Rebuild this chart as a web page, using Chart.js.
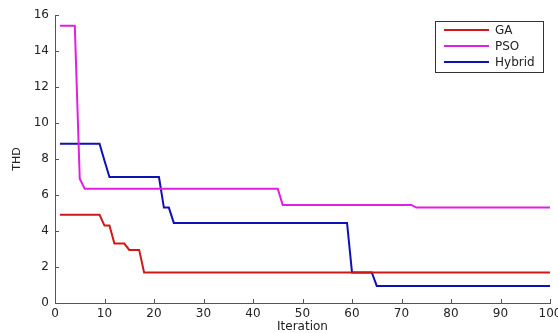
<!DOCTYPE html>
<html lang="en">
  <head>
    <meta charset="UTF-8" />
    <title>THD vs Iteration</title>
    <script src="https://cdn.jsdelivr.net/npm/chart.js@4"></script>
    <style>
      html, body { margin: 0; padding: 0; background: #fff; }
      #wrap { width: 558px; height: 333px; }
    </style>
  </head>
  <body>
    <div id="wrap"><canvas id="thd-chart"></canvas></div>
    <script>
      // points where each curve changes (iteration, THD)
      const gaIter = [1, 9, 10, 11, 12, 14, 15, 17, 18, 100];
      const gaThd = [4.9, 4.9, 4.3, 4.3, 3.3, 3.3, 2.95, 2.95, 1.7, 1.7];

      const psoIter = [1, 4, 5, 6, 45, 46, 72, 73, 100];
      const psoThd = [15.4, 15.4, 6.9, 6.35, 6.35, 5.45, 5.45, 5.3, 5.3];

      const hybIter = [1, 9, 10, 11, 21, 22, 23, 24, 59, 60, 64, 65, 100];
      const hybThd = [8.85, 8.85, 7.9, 7.0, 7.0, 5.3, 5.3, 4.45, 4.45, 1.7, 1.7, 0.95, 0.95];

      const xTicks = [0, 10, 20, 30, 40, 50, 60, 70, 80, 90, 100];
      const yTicks = [0, 2, 4, 6, 8, 10, 12, 14, 16];

      const toPts = (xs, ys) => xs.map((x, i) => ({ x: x, y: ys[i] }));
      const family = "'DejaVu Sans', Arial, sans-serif";
      const font = { family: family, size: 12 };

      // matlab style ticks pointing into the plot
      const innerTicks = {
        id: "innerTicks",
        afterDraw(chart) {
          const ctx = chart.ctx;
          const { x, y } = chart.scales;
          ctx.save();
          ctx.strokeStyle = "#555";
          ctx.lineWidth = 1;
          xTicks.forEach((v) => {
            const px = Math.round(x.getPixelForValue(v)) + 0.5;
            ctx.beginPath();
            ctx.moveTo(px, y.bottom);
            ctx.lineTo(px, y.bottom - 4);
            ctx.stroke();
          });
          yTicks.forEach((v) => {
            const py = Math.round(y.getPixelForValue(v)) + 0.5;
            ctx.beginPath();
            ctx.moveTo(x.left, py);
            ctx.lineTo(x.left + 4, py);
            ctx.stroke();
          });
          ctx.restore();
        },
      };

      // boxed legend in the top right corner
      const boxLegend = {
        id: "boxLegend",
        afterDraw(chart) {
          const ctx = chart.ctx;
          const bx = 435, by = 21, bw = 108, bh = 51;
          ctx.save();
          ctx.fillStyle = "#fff";
          ctx.fillRect(bx, by, bw, bh);
          ctx.strokeStyle = "#333";
          ctx.lineWidth = 1;
          ctx.strokeRect(bx + 0.5, by + 0.5, bw, bh);
          ctx.font = "12px " + family;
          ctx.textBaseline = "middle";
          chart.data.datasets.forEach((ds, i) => {
            const ly = by + 9 + i * 16;
            ctx.strokeStyle = ds.borderColor;
            ctx.lineWidth = 2;
            ctx.beginPath();
            ctx.moveTo(444, ly);
            ctx.lineTo(489, ly);
            ctx.stroke();
            ctx.fillStyle = "#222";
            ctx.fillText(ds.label, 495, ly + 1);
          });
          ctx.restore();
        },
      };

      new Chart(document.getElementById("thd-chart"), {
        type: "line",
        data: {
          datasets: [
            { label: "GA", data: toPts(gaIter, gaThd), borderColor: "#d01818" },
            { label: "PSO", data: toPts(psoIter, psoThd), borderColor: "#e020e0" },
            { label: "Hybrid", data: toPts(hybIter, hybThd), borderColor: "#1010b8" },
          ].map((d) => Object.assign(d, { borderWidth: 2, pointRadius: 0, tension: 0, fill: false })),
        },
        options: {
          responsive: true,
          maintainAspectRatio: false,
          animation: false,
          layout: { padding: { left: 0, right: 8, top: 15, bottom: 0 } },
          plugins: { legend: { display: false }, tooltip: { enabled: false } },
          scales: {
            x: {
              type: "linear",
              min: 0,
              max: 100,
              afterBuildTicks: (s) => { s.ticks = xTicks.map((v) => ({ value: v })); },
              afterFit: (s) => { s.height = 30; s.paddingLeft = 0; s.paddingRight = 0; },
              grid: { display: false, drawTicks: false },
              border: { color: "#555", width: 1 },
              ticks: { color: "#222", font: font, padding: 4, maxRotation: 0 },
              title: { display: true, text: "Iteration", color: "#222", font: { family: family, size: 12, lineHeight: 1 }, padding: { top: 0, bottom: 0 } },
            },
            y: {
              min: 0,
              max: 16,
              afterBuildTicks: (s) => { s.ticks = yTicks.map((v) => ({ value: v })); },
              afterFit: (s) => { s.width = 55; },
              grid: { display: false, drawTicks: false },
              border: { color: "#555", width: 1 },
              ticks: { color: "#222", font: font, padding: 6 },
              title: { display: true, text: "THD", color: "#222", font: { family: family, size: 11 }, padding: { top: 11, bottom: 0 } },
            },
          },
        },
        plugins: [innerTicks, boxLegend],
      });
    </script>
  </body>
</html>
